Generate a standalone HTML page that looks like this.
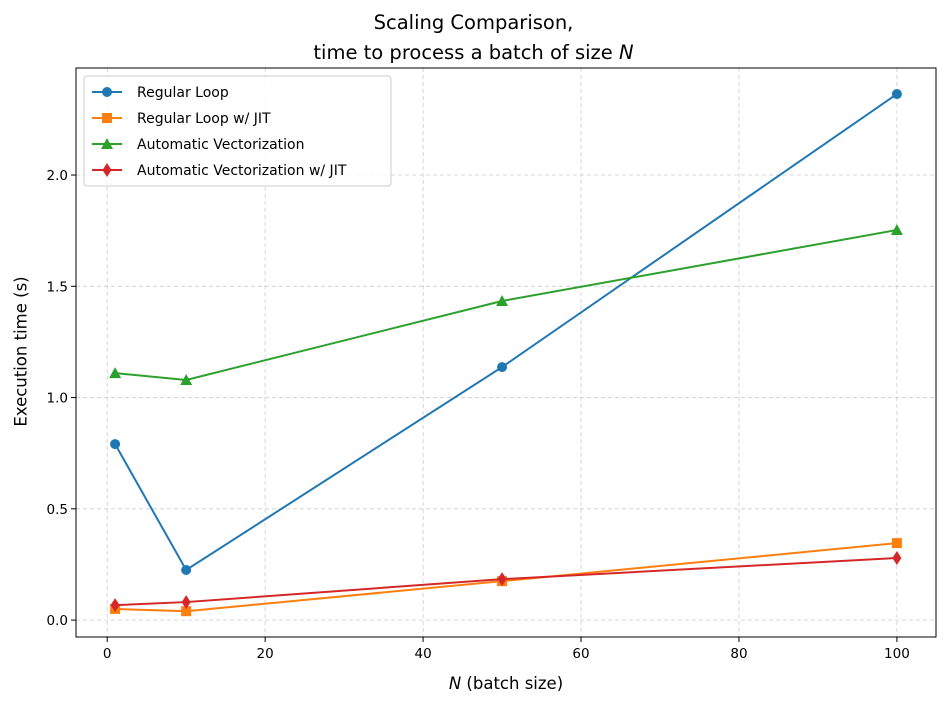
<!DOCTYPE html>
<html><head><meta charset="utf-8"><style>
body{margin:0;background:#fff;}
svg{display:block;font-family:"DejaVu Sans","Liberation Sans",sans-serif;}
</style></head><body>
<svg id="chart" width="947" height="707"></svg>
<script>
const categories=[1,10,50,100];
const regularLoop=[0.791,0.225,1.137,2.364];
const regularLoopJit=[0.05,0.04,0.175,0.346];
const autoVec=[1.110,1.079,1.434,1.753];
const autoVecJit=[0.067,0.081,0.184,0.279];
const xTicks=[0,20,40,60,80,100];
const yTicks=[0.0,0.5,1.0,1.5,2.0];
const seriesNames=["Regular Loop","Regular Loop w/ JIT","Automatic Vectorization","Automatic Vectorization w/ JIT"];

const L=76,R=936,T=68,B=637;
const xMin=-3.95,xMax=104.95,yMin=-0.076,yMax=2.481;
const sx=v=>L+(v-xMin)/(xMax-xMin)*(R-L);
const sy=v=>B-(v-yMin)/(yMax-yMin)*(B-T);
const svg=document.getElementById('chart');
const NS='http://www.w3.org/2000/svg';
function mk(tag,attrs,parent){const e=document.createElementNS(NS,tag);for(const k in attrs)e.setAttribute(k,attrs[k]);(parent||svg).appendChild(e);return e;}

xTicks.forEach(t=>{const g=mk('line',{x1:sx(t),x2:sx(t),y1:T,y2:B,stroke:'#cccccc','stroke-dasharray':'4,3','stroke-width':0.8});

});
yTicks.forEach(t=>{const g=mk('line',{x1:L,x2:R,y1:sy(t),y2:sy(t),stroke:'#cccccc','stroke-dasharray':'4,3','stroke-width':0.8});

});

xTicks.forEach(t=>{mk('line',{x1:sx(t),x2:sx(t),y1:B,y2:B+5,stroke:'#000'});
const tx=mk('text',{x:sx(t),y:B+21,'text-anchor':'middle','font-size':13.5});tx.textContent=t;

});
yTicks.forEach(t=>{mk('line',{x1:L-5,x2:L,y1:sy(t),y2:sy(t),stroke:'#000'});
const tx=mk('text',{x:L-8,y:sy(t)+5,'text-anchor':'end','font-size':13.5});tx.textContent=t.toFixed(1);

});

const colors=['#1f77b4','#ff7f0e','#2ca02c','#d62728'];
const markers=['circle','square','triangle','diamond'];
function marker(type,x,y,c,p){
  if(type==='circle')return mk('circle',{cx:x,cy:y,r:5,fill:c},p);
  if(type==='square')return mk('rect',{x:x-5,y:y-5,width:10,height:10,fill:c},p);
  if(type==='triangle')return mk('polygon',{points:`${x},${y-6} ${x+6},${y+5} ${x-6},${y+5}`,fill:c},p);
  return mk('polygon',{points:`${x},${y-7} ${x+4.5},${y} ${x},${y+7} ${x-4.5},${y}`,fill:c},p);
}
const allSeries=[regularLoop,regularLoopJit,autoVec,autoVecJit];
allSeries.forEach((s,i)=>{
  const g=mk('g',{});
  
  
  mk('polyline',{points:s.map((v,j)=>sx(categories[j])+','+sy(v)).join(' '),fill:'none',stroke:colors[i],'stroke-width':2},g);
  s.forEach((v,j)=>{const m=marker(markers[i],sx(categories[j]),sy(v),colors[i],g);
  
  });
});

const fr=mk('rect',{x:L,y:T,width:R-L,height:B-T,fill:'none',stroke:'#000','stroke-width':1});



const lg=mk('g',{});


mk('rect',{x:84,y:76,width:307,height:110,rx:3,fill:'#fff','fill-opacity':0.8,stroke:'#cccccc'},lg);
seriesNames.forEach((n,i)=>{
  const y=92+i*26;
  const e=mk('g',{},lg);
  
  
  mk('line',{x1:92,x2:122,y1:y,y2:y,stroke:colors[i],'stroke-width':2},e);
  marker(markers[i],107,y,colors[i],e);
  const t=mk('text',{x:137,y:y+5,'font-size':14,'textLength':null},e);t.removeAttribute('textLength');t.textContent=n;
});
</script>
<div style="position:absolute;left:0;width:947px;text-align:center;font-family:'DejaVu Sans','Liberation Sans',sans-serif;font-size:19.5px;line-height:30px;top:8px">Scaling Comparison,<br>time to process a batch of size <i>N</i></div>
<div style="position:absolute;left:0;width:1012px;text-align:center;top:674px;font-family:'DejaVu Sans','Liberation Sans',sans-serif;font-size:16.5px"><i>N</i> (batch size)</div>
<div style="position:absolute;left:-64px;top:342px;width:170px;text-align:center;transform:rotate(-90deg);font-family:'DejaVu Sans','Liberation Sans',sans-serif;font-size:16.5px">Execution time (s)</div>
</body></html>
